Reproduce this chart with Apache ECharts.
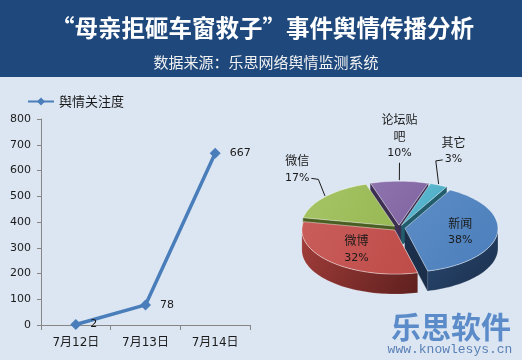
<!DOCTYPE html>
<html><head><meta charset="utf-8">
<script src="https://cdn.jsdelivr.net/npm/echarts@6/dist/echarts.min.js"></script>
<style>html,body{margin:0;padding:0;background:#DCE6F2}#c{width:522px;height:360px}</style>
</head><body><div id="c"></div>
<script>
// ---------------- data ----------------
const titleText = '“母亲拒砸车窗救子”事件舆情传播分析';
const subtitleText = '数据来源：乐思网络舆情监测系统';
const seriesName = '舆情关注度';
const categories = ['7月12日', '7月13日', '7月14日'];
const attention = [2, 78, 667];
const yMin = 0, yMax = 800, yInterval = 100;
const pieNames = ['新闻', '微博', '微信', '论坛贴吧', '其它'];
const pieValues = [38, 32, 17, 10, 3];
const brandText = '乐思软件';
const brandUrl = 'www.knowlesys.cn';

// ---------------- styles ----------------
const pieTop = ['#4A7EBB', '#BE4B48', '#98B954', '#7F63A1', '#4AACC5'];
const pieTopLight = ['#5D8DC6', '#C95D5A', '#A6C466', '#8E74AE', '#5EBAD1'];
const pieSideA = ['#2A4A74', '#A23D3A', '#6E8A36', '#5A4678', '#31879D'];
const pieSideB = ['#1B2F4B', '#5E201E', '#4A5E22', '#3D2F52', '#215D6C'];
const PIE = { cx: 399, cy: 228, rx: 93, k: 44 / 93, depth: 20, explode: 6, start: 29 };

const total = pieValues.reduce((a, b) => a + b, 0);
const sliceAngles = [];
(function () {
  let acc = PIE.start;
  pieValues.forEach(v => { const s = v / total * 360; sliceAngles.push([acc, acc + s]); acc += s; });
})();
const frontness = sliceAngles.map(([a, b]) => -Math.cos((a + b) / 2 * Math.PI / 180));
const order = frontness.map((f, i) => i).sort((x, y) => frontness[x] - frontness[y]);
const rank = []; order.forEach((idx, r) => rank[idx] = r);

const rad = d => d * Math.PI / 180;
function pt(t, r, ox, oy, dz) {
  return [PIE.cx + ox + r * Math.sin(rad(t)), PIE.cy + oy - r * Math.cos(rad(t)) * PIE.k + dz];
}
function arc(a, b, ox, oy, dz) {
  const n = Math.max(2, Math.ceil(Math.abs(b - a) / 2)); const pts = [];
  for (let j = 0; j <= n; j++) pts.push(pt(a + (b - a) * j / n, PIE.rx, ox, oy, dz));
  return pts;
}
const ctx = document.createElement('canvas').getContext('2d');
function textW(s, font) { ctx.font = font; return ctx.measureText(s).width; }

function renderPie(params, api) {
  const i = params.dataIndex;
  const v = api.value(0);
  const [a0, a1] = sliceAngles[i];
  const mid = (a0 + a1) / 2;
  const ox = PIE.explode * Math.sin(rad(mid));
  const oy = -PIE.explode * Math.cos(rad(mid)) * PIE.k;
  const D = PIE.depth;
  const c0 = [PIE.cx + ox, PIE.cy + oy], c1 = [c0[0], c0[1] + D];
  const base = rank[i] * 10;
  const kids = [];
  const sideFill = new echarts.graphic.LinearGradient(0, 0, 1, 1, [
    { offset: 0, color: pieSideA[i] }, { offset: 1, color: pieSideB[i] }]);
  // radial faces
  if (Math.cos(rad(a0 - 90)) < 0) {
    const p = pt(a0, PIE.rx, ox, oy, 0), q = pt(a0, PIE.rx, ox, oy, D);
    kids.push({ type: 'polygon', shape: { points: [c0, p, q, c1] }, style: { fill: pieSideB[i], stroke: pieSideB[i], lineWidth: 0.5 }, z2: base + 1 });
  }
  if (Math.cos(rad(a1 + 90)) < 0) {
    const p = pt(a1, PIE.rx, ox, oy, 0), q = pt(a1, PIE.rx, ox, oy, D);
    kids.push({ type: 'polygon', shape: { points: [c0, p, q, c1] }, style: { fill: pieSideB[i], stroke: pieSideB[i], lineWidth: 0.5 }, z2: base + 1 });
  }
  // outer front side
  [[90, 270], [450, 630]].forEach(([f0, f1]) => {
    const s = Math.max(a0, f0), e = Math.min(a1, f1);
    if (s < e) {
      const top = arc(s, e, ox, oy, 0), bot = arc(e, s, ox, oy, D);
      kids.push({ type: 'polygon', shape: { points: top.concat(bot) }, style: { fill: sideFill, stroke: 'rgba(255,255,255,0.25)', lineWidth: 0.6 }, z2: base + 2 });
    }
  });
  // top face
  const topPts = [c0].concat(arc(a0, a1, ox, oy, 0));
  kids.push({ type: 'polygon', shape: { points: topPts }, style: {
    fill: new echarts.graphic.LinearGradient(0, 0, 1, 1, [{ offset: 0, color: pieTopLight[i] }, { offset: 1, color: pieTop[i] }]),
    stroke: 'rgba(255,255,255,0.55)', lineWidth: 0.8 }, z2: base + 5 });
  // labels
  const name = pieNames[i];
  const lines = name.length > 3 ? [name.slice(0, 3), name.slice(3)] : [name];
  const pct = Math.round(v / total * 100) + '%';
  const txt = lines.map(l => '{n|' + l + '}').join('\n') + '\n{p|' + pct + '}';
  const rich = { n: { fontSize: 12, fontFamily: 'Noto Sans CJK SC', lineHeight: 17, fill: '#1a1a1a' },
                 p: { fontSize: 11, fontFamily: 'DejaVu Sans', lineHeight: 17, fill: '#1a1a1a' } };
  const sn = Math.sin(rad(mid)), cs = Math.cos(rad(mid));
  if (v / total >= 0.2) {
    kids.push({ type: 'text', x: c0[0] + 0.6 * PIE.rx * sn, y: c0[1] - 0.6 * PIE.rx * PIE.k * cs,
      style: { text: txt, rich, align: 'center', verticalAlign: 'middle' }, z2: 1000 });
  } else {
    const ax = c0[0] + sn * PIE.rx * 1.4, ay = c0[1] - cs * PIE.rx * PIE.k * 1.6 + 7;
    kids.push({ type: 'text', x: ax, y: ay, style: { text: txt, rich, align: 'center', verticalAlign: 'bottom' }, z2: 1000 });
    const E = pt(mid, PIE.rx, ox, oy, 0);
    let pts;
    if (Math.abs(sn) > 0.3) {
      const hw = textW(pct, '11px DejaVu Sans') / 2 + 2;
      const sx = ax - Math.sign(sn) * hw, sy = ay - 8;
      pts = [[sx, sy], [sx - Math.sign(sn) * 7, sy + 1], [E[0], E[1] - 1]];
    } else {
      pts = [[ax, ay + 1], [E[0], E[1] - 1]];
    }
    kids.push({ type: 'polyline', shape: { points: pts }, style: { stroke: '#1a1a1a', lineWidth: 1, fill: null }, z2: 999 });
  }
  return { type: 'group', children: kids };
}

const chart = echarts.init(document.getElementById('c'), null, { renderer: 'canvas' });
chart.setOption({
  backgroundColor: '#DCE6F2',
  animation: false,
  graphic: [
    { type: 'rect', shape: { x: 0, y: 0, width: 522, height: 77 }, style: { fill: '#1F497D' }, z: -10 },
    { type: 'text', x: 262.5, y: 28, style: { text: titleText, fill: '#FFFFFF', font: 'bold 23.5px "Noto Sans CJK SC"', align: 'center', verticalAlign: 'middle' } },
    { type: 'text', x: 266, y: 62, style: { text: subtitleText, fill: '#F2F2F2', font: '15px "Noto Sans CJK SC"', align: 'center', verticalAlign: 'middle' } },
    { type: 'text', x: 451, y: 327, style: { text: brandText, fill: '#5B8BC8', font: 'bold 30px "Noto Sans CJK SC"', align: 'center', verticalAlign: 'middle' } },
    { type: 'text', x: 450, y: 350, style: { text: brandUrl, fill: '#5A80B6', font: '13px "Liberation Mono"', align: 'center', verticalAlign: 'middle' } }
  ],
  legend: {
    data: [seriesName], left: 22, top: 90, itemWidth: 26, itemHeight: 10,
    textStyle: { fontSize: 13, fontFamily: 'Noto Sans CJK SC', color: '#1a1a1a' }
  },
  grid: { left: 41, top: 119, width: 209, height: 206 },
  xAxis: {
    type: 'category', data: categories, boundaryGap: true,
    axisLine: { lineStyle: { color: '#868686' } },
    axisTick: { show: true, length: 5, lineStyle: { color: '#868686' } },
    axisLabel: { fontSize: 12, fontFamily: 'DejaVu Sans, Noto Sans CJK SC', color: '#1a1a1a', margin: 12 }
  },
  yAxis: {
    type: 'value', min: yMin, max: yMax, interval: yInterval,
    axisLine: { show: true, lineStyle: { color: '#868686' } },
    axisTick: { show: true, length: 4, lineStyle: { color: '#868686' } },
    splitLine: { show: false },
    axisLabel: { fontSize: 11, fontFamily: 'DejaVu Sans', color: '#1a1a1a', margin: 10 }
  },
  series: [
    {
      name: seriesName, type: 'line', data: attention,
      symbol: 'diamond', symbolSize: 11,
      itemStyle: { color: '#4A7EBB' }, lineStyle: { color: '#4A7EBB', width: 3.5 },
      label: { show: true, position: 'right', distance: 9, fontSize: 11, fontFamily: 'DejaVu Sans', color: '#1a1a1a' }
    },
    {
      type: 'custom', coordinateSystem: 'none', silent: true,
      data: pieValues.map((v, i) => ({ name: pieNames[i], value: [v] })),
      renderItem: renderPie
    }
  ]
});
</script></body></html>
